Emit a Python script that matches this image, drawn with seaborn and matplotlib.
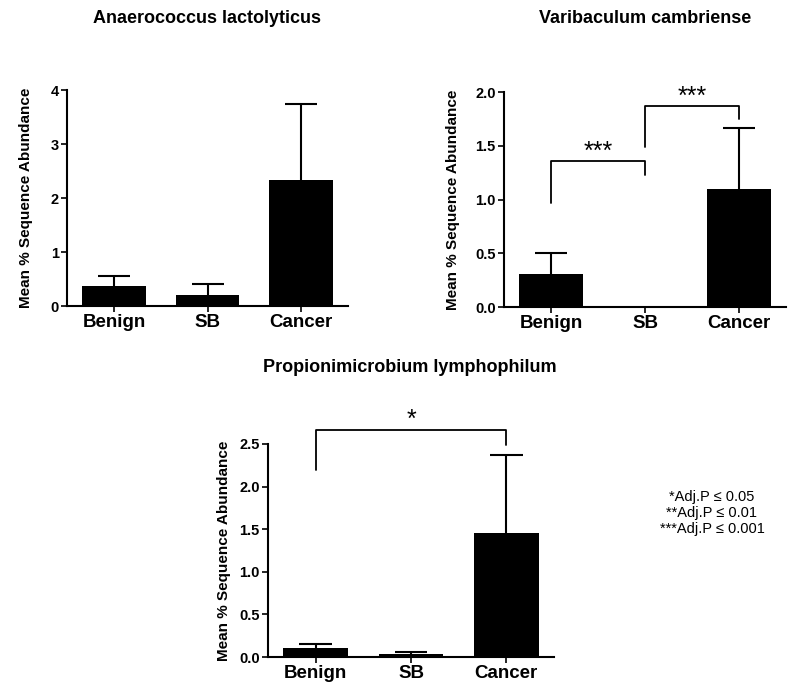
import matplotlib
matplotlib.use("Agg")
import matplotlib.pyplot as plt
import seaborn as sns
import pandas as pd

groups = ["Benign", "SB", "Cancer"]

# Anaerococcus lactolyticus
ana_mean = [0.37, 0.20, 2.33]
ana_err = [0.18, 0.20, 1.42]

# Varibaculum cambriense
var_mean = [0.31, 0.0, 1.10]
var_err = [0.19, 0.0, 0.57]

# Propionimicrobium lymphophilum
pro_mean = [0.11, 0.04, 1.45]
pro_err = [0.04, 0.02, 0.92]

titles = ["Anaerococcus lactolyticus", "Varibaculum cambriense",
          "Propionimicrobium lymphophilum"]

sns.set_style("ticks", {"text.color": "black", "axes.labelcolor": "black",
                        "xtick.color": "black", "ytick.color": "black",
                        "axes.edgecolor": "black"})
plt.rcParams["font.family"] = ["Liberation Sans", "DejaVu Sans"]

fig = plt.figure(figsize=(8, 6.98), dpi=100)


def draw(rect, means, errs, ymax, ystep, fmt, pad):
    ax = fig.add_axes(rect)
    df = pd.DataFrame({"group": groups, "mean": means})
    sns.barplot(data=df, x="group", y="mean", color="black", width=0.68,
                errorbar=None, ax=ax, saturation=1, linewidth=0)
    # upper-only error bars with a single cap
    for i, (m, e) in enumerate(zip(means, errs)):
        if e <= 0:
            continue
        ax.vlines(i, m, m + e, color="black", lw=1.5)
        ax.hlines(m + e, i - 0.17, i + 0.17, color="black", lw=1.5)
    ax.set_xlim(-0.5, 2.5)
    ax.set_ylim(0, ymax)
    ticks = [i * ystep for i in range(int(round(ymax / ystep)) + 1)]
    ax.set_yticks(ticks)
    ax.set_yticklabels([fmt.format(t) for t in ticks], fontsize=10.5,
                       fontweight="bold")
    ax.set_xticks(range(len(groups)))
    ax.set_xticklabels(groups, fontsize=13.5, fontweight="bold")
    ax.set_xlabel("")
    ax.set_ylabel("Mean % Sequence Abundance", fontsize=11,
                  fontweight="bold", labelpad=pad)
    sns.despine(ax=ax)
    for s in ["left", "bottom"]:
        ax.spines[s].set_linewidth(1.5)
    ax.tick_params(width=1.2, length=4, pad=2)
    return ax


def bracket(ax, x1, x2, y, y1, y2, label, ly):
    ax.plot([x1, x1, x2, x2], [y1, y, y, y2], color="black", lw=1.3,
            clip_on=False)
    ax.text((x1 + x2) / 2, ly, label, ha="center", va="center",
            fontsize=18, clip_on=False)


ax1 = draw([0.084, 0.5616, 0.351, 0.309], ana_mean, ana_err, 4, 1, "{:.0f}",
           13)
fig.text(0.259, 0.974, titles[0], ha="center", va="center", fontsize=13,
         fontweight="bold")

ax2 = draw([0.63, 0.560, 0.3525, 0.308], var_mean, var_err, 2.0, 0.5,
           "{:.1f}", 10.5)
fig.text(0.806, 0.974, titles[1], ha="center", va="center", fontsize=13,
         fontweight="bold")
bracket(ax2, 0, 1, 1.36, 0.97, 1.23, "***", 1.44)
bracket(ax2, 1, 2, 1.87, 1.49, 1.75, "***", 1.96)

ax3 = draw([0.335, 0.0587, 0.3575, 0.3053], pro_mean, pro_err, 2.5, 0.5,
           "{:.1f}", 6)
fig.text(0.512, 0.474, titles[2], ha="center", va="center", fontsize=13,
         fontweight="bold")
bracket(ax3, 0, 2, 2.66, 2.19, 2.49, "*", 2.78)

fig.text(0.89, 0.265, "*Adj.P \u2264 0.05\n**Adj.P \u2264 0.01\n***Adj.P \u2264 0.001",
         ha="center", va="center", multialignment="center", fontsize=10.5,
         linespacing=1.2)

fig.savefig("out.png", dpi=100)
